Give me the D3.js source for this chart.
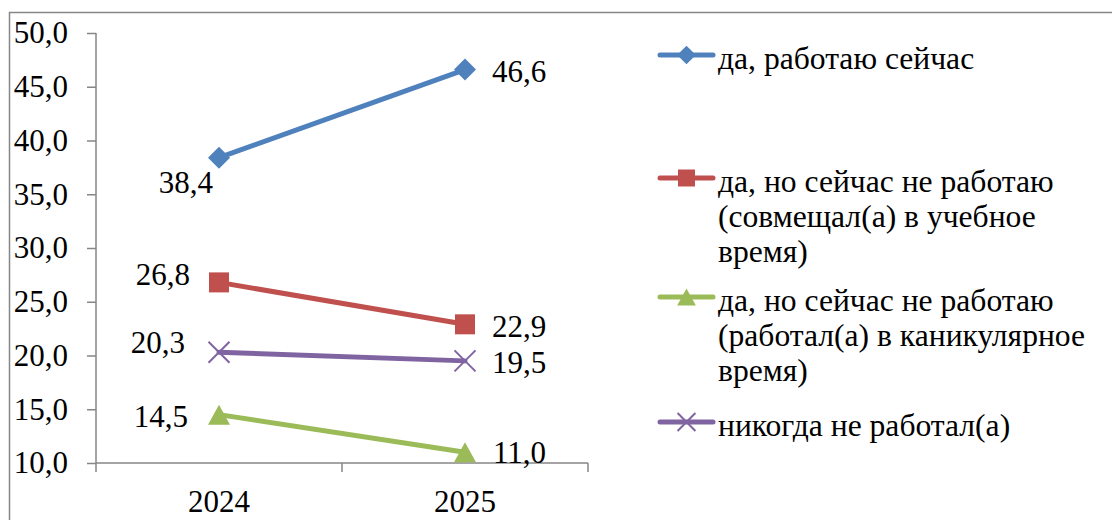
<!DOCTYPE html>
<html><head><meta charset="utf-8">
<script src="https://cdn.jsdelivr.net/npm/d3@7"></script>
<style>
html,body{margin:0;padding:0;background:#fff;}
svg{display:block;}
svg text{font-family:"Liberation Serif","Times New Roman",serif;}
</style></head>
<body>
<svg id="chart" width="1112" height="520"></svg>
<script>
const categories = ["2024", "2025"];
const seriesNames = [
  ["да, работаю сейчас"],
  ["да, но сейчас не работаю", "(совмещал(а) в учебное", "время)"],
  ["да, но сейчас не работаю", "(работал(а) в каникулярное", "время)"],
  ["никогда не работал(а)"]
];
const values1 = [38.4, 46.6];
const values2 = [26.8, 22.9];
const values3 = [14.5, 11.0];
const values4 = [20.3, 19.5];
const yTicks = [10, 15, 20, 25, 30, 35, 40, 45, 50];

const colors = ["#4F81BD", "#C0504D", "#9BBB59", "#8064A2"];
const markers = ["diamond", "square", "triangle", "x"];
const series = [values1, values2, values3, values4].map((v, i) => ({
  name: seriesNames[i], values: v, color: colors[i], marker: markers[i]
}));

const svg = d3.select("#chart");
const fs = 31, fsLeg = 31.6;
const FF = "Liberation Serif";
const fmt = v => d3.format(".1f")(v).replace(".", ",");

// outer border
svg.append("rect").attr("x", 9.5).attr("y", 12.5).attr("width", 1200).attr("height", 600)
  .attr("fill", "none").attr("stroke", "#868686").attr("stroke-width", 1.5);

const pL = 96, pR = 588, pT = 33, pB = 463;
const x = d3.scaleBand().domain(categories).range([pL, pR]);
const y = d3.scaleLinear().domain([10, 50]).range([pB, pT]);

// y axis
const yAxis = svg.append("g").attr("transform", `translate(${pL},0)`)
  .call(d3.axisLeft(y).tickValues(yTicks).tickFormat(fmt).tickSize(9).tickPadding(19))
  .attr("font-family", FF).attr("font-size", fs);
yAxis.selectAll("path,line").attr("stroke", "#868686").attr("stroke-width", 1.5);
yAxis.select(".domain").attr("d", `M0,${pT}V${pB}`);
yAxis.selectAll("text").attr("fill", "#000");

// x axis
const xAxis = svg.append("g").attr("transform", `translate(0,${pB})`).attr("font-family", FF);
xAxis.append("line").attr("x1", pL).attr("x2", pR).attr("stroke", "#868686").attr("stroke-width", 1.5);
const boundaries = [pL, ...categories.map(c => x(c) + x.bandwidth())];
xAxis.selectAll("line.tk").data(boundaries).join("line").attr("class", "tk")
  .attr("x1", d => d).attr("x2", d => d).attr("y1", 0).attr("y2", 9)
  .attr("stroke", "#868686").attr("stroke-width", 1.5);
xAxis.selectAll("text").data(categories).join("text")
  .attr("x", d => x(d) + x.bandwidth() / 2).attr("y", 49)
  .attr("text-anchor", "middle").attr("font-size", fs).text(d => d);

const cx = c => x(c) + x.bandwidth() / 2;
const line = d3.line().x((d, i) => cx(categories[i])).y(d => y(d));

function drawMarker(g, type, color, px, py, s) {
  if (type === "diamond") {
    const k = s * 1.1;
    g.append("path").attr("d", `M${px},${py - k}L${px + k},${py}L${px},${py + k}L${px - k},${py}Z`).attr("fill", color);
  } else if (type === "square") {
    g.append("rect").attr("x", px - s).attr("y", py - s).attr("width", s * 2).attr("height", s * 2).attr("fill", color);
  } else if (type === "triangle") {
    g.append("path").attr("d", `M${px},${py - s}L${px + s * 1.1},${py + s}L${px - s * 1.1},${py + s}Z`).attr("fill", color);
  } else {
    const k = s * 1.05;
    g.append("path").attr("d", `M${px - k},${py - k}L${px + k},${py + k}M${px - k},${py + k}L${px + k},${py - k}`)
      .attr("stroke", color).attr("stroke-width", 2).attr("fill", "none");
  }
}

// label offsets per series/point (dx, dy, anchor)
const labelPos = [
  [[-6, 35, "end"], [27, 12.5, "start"]],
  [[-29, 3, "end"], [27, 12.5, "start"]],
  [[-31, 12, "end"], [28, 11, "start"]],
  [[-34, 1, "end"], [27, 12, "start"]]
];

const plot = svg.append("g").attr("font-family", FF);
series.forEach((s, si) => {
  plot.append("path").datum(s.values).attr("d", line).attr("fill", "none")
    .attr("stroke", s.color).attr("stroke-width", 5).attr("stroke-linecap", "round");
});
series.forEach((s, si) => {
  s.values.forEach((v, i) => {
    const px = cx(categories[i]), py = y(v);
    drawMarker(plot, s.marker, s.color, px, py, 10);
    const lp = labelPos[si][i];
    plot.append("text").attr("x", px + lp[0]).attr("y", py + lp[1]).attr("text-anchor", lp[2])
      .attr("font-size", fs).attr("fill", "#000").text(fmt(v));
  });
});

// legend
const legendY = [55, 178, 297, 422];
const lh = 35;
const legend = svg.append("g").attr("font-family", FF);
series.forEach((s, si) => {
  const ly = legendY[si];
  legend.append("line").attr("x1", 660).attr("x2", 713).attr("y1", ly).attr("y2", ly)
    .attr("stroke", s.color).attr("stroke-width", 5).attr("stroke-linecap", "round");
  drawMarker(legend, s.marker, s.color, 686.5, ly, 8.5);
  s.name.forEach((t, li) => {
    legend.append("text").attr("x", 718).attr("y", ly + 14 + li * lh).attr("font-size", fsLeg)
      .attr("fill", "#000").text(t);
  });
});
</script>
</body></html>
